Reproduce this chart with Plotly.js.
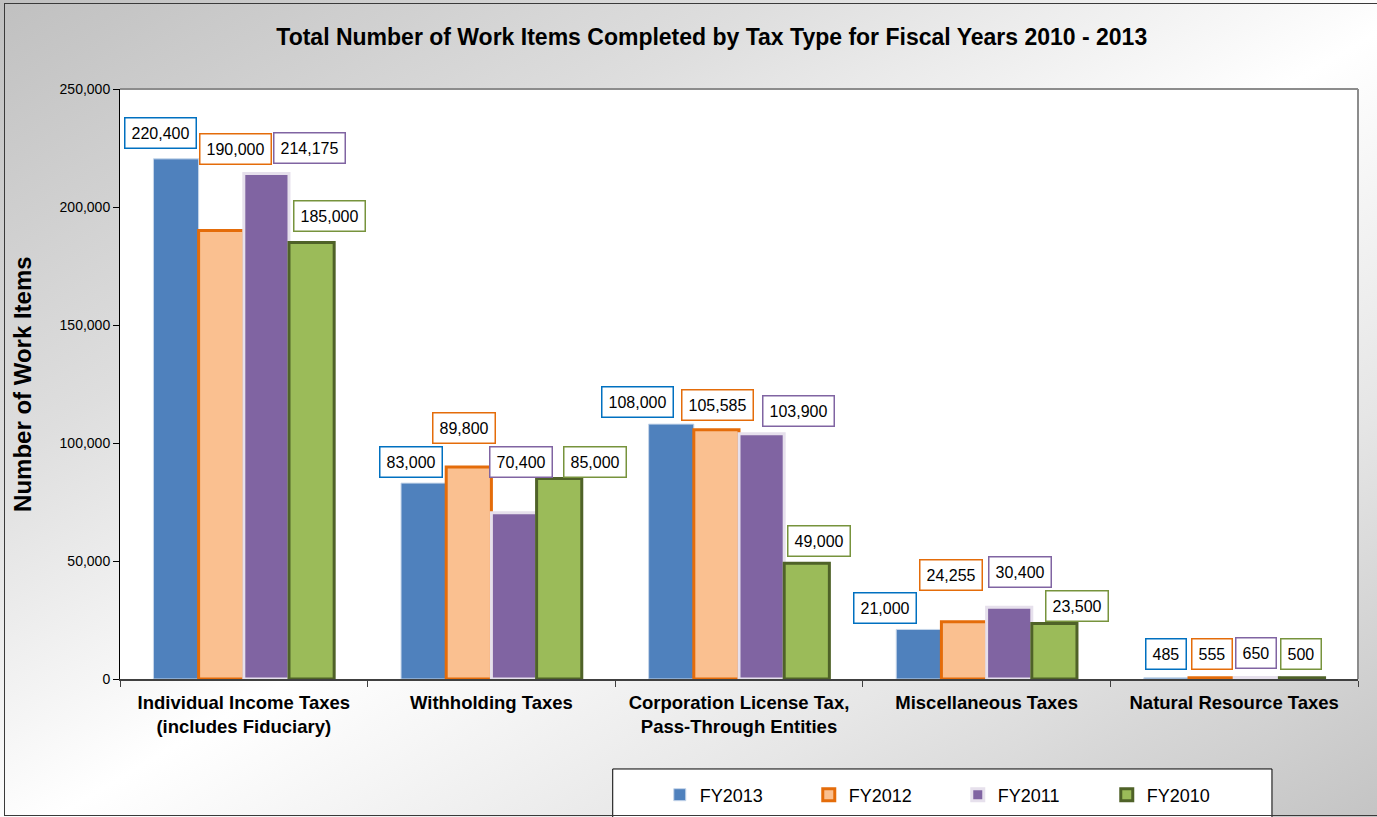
<!DOCTYPE html>
<html>
<head>
<meta charset="utf-8">
<script src="https://cdn.plot.ly/plotly-3.0.1.min.js"></script>
<style>
  html, body { margin: 0; padding: 0; }
  #wrap { position: relative; width: 1377px; height: 817px; overflow: hidden;
    background: linear-gradient(to bottom right, #c0c0c0 0%, #dedede 28%, #ffffff 52%, #e6e6e6 75%, #c4c4c4 100%); }
  #chart { position: absolute; left: 0; top: 0; width: 1377px; height: 817px; }
  #frame { position: absolute; left: 4px; top: 3px; width: 1380px; height: 811px;
    border: 1.5px solid #3a3a3a; pointer-events: none; }
</style>
</head>
<body>
<div id="wrap">
  <div id="chart"></div>
  <div id="frame"></div>
</div>
<script>
// ---- data ----
const categories = [
  "Individual Income Taxes<br>(includes Fiduciary)",
  "Withholding Taxes",
  "Corporation License Tax,<br>Pass-Through Entities",
  "Miscellaneous Taxes",
  "Natural Resource Taxes"
];
const seriesNames = ["FY2013", "FY2012", "FY2011", "FY2010"];
const fy2013 = [220400, 83000, 108000, 21000, 485];
const fy2012 = [190000, 89800, 105585, 24255, 555];
const fy2011 = [214175, 70400, 103900, 30400, 650];
const fy2010 = [185000, 85000, 49000, 23500, 500];
const yTickVals = [0, 50000, 100000, 150000, 200000, 250000];

// ---- styles ----
const fills = ["#4F81BD", "#FAC090", "#8064A2", "#9BBB59"];
const lines = ["#C6D6EA", "#E46C0A", "#E6E0EC", "#4F6228"];
const lineW = [1, 3, 3, 3];
const labelBorders = ["#0070C0", "#E46C0A", "#8064A2", "#77933C"];
// label box offsets (pixels) relative to bar top centre: [dx], [up]
const labelDx = [[-16, -13, -34, -34, 0], [14, -5, 1, -13, 0], [43, 7, 37, 11, -1], [18, 36, 12, 23, -1]];
const labelUp = [[26, 21, 22, 21, 24], [82, 39, 25, 47, 24], [26, 51, 23, 35, 24], [26, 16, 22, 18, 24]];

const allSeries = [fy2013, fy2012, fy2011, fy2010];
const bargap = 0.27;
const barW = (1 - bargap) / allSeries.length;
const font = "Liberation Sans, Arial, sans-serif";

const traces = allSeries.map((vals, s) => ({
  type: "bar",
  name: seriesNames[s],
  x: categories,
  y: vals,
  marker: { color: fills[s], line: { color: lines[s], width: lineW[s] } },
  hoverinfo: "x+y+name"
}));

const annotations = [];
allSeries.forEach((vals, s) => {
  vals.forEach((v, i) => {
    annotations.push({
      xref: "x", yref: "y",
      x: i + (s - (allSeries.length - 1) / 2) * barW,
      y: v,
      xshift: labelDx[s][i],
      yshift: labelUp[s][i],
      yanchor: "middle", xanchor: "center",
      text: v.toLocaleString("en-US"),
      showarrow: false,
      font: { family: font, size: 16, color: "#000" },
      bgcolor: "#ffffff",
      bordercolor: labelBorders[s],
      borderwidth: 1.5,
      borderpad: 6
    });
  });
});
annotations.push({
  xref: "paper", yref: "paper", x: -0.0792, y: 0.5,
  xanchor: "center", yanchor: "middle", textangle: -90,
  text: "Number of Work Items", showarrow: false,
  font: { family: font, size: 24, color: "#000", weight: "bold" }
});

const layout = {
  width: 1377, height: 817,
  margin: { l: 120, r: 19, t: 89, b: 138 },
  paper_bgcolor: "rgba(0,0,0,0)",
  plot_bgcolor: "#ffffff",
  barmode: "group",
  bargap: bargap,
  bargroupgap: 0,
  title: {
    text: "Total Number of Work Items Completed by Tax Type for Fiscal Years 2010 - 2013",
    font: { family: font, size: 23, color: "#000", weight: "bold" },
    xref: "paper", x: 0.478, xanchor: "center",
    yref: "container", y: 1 - 37 / 817, yanchor: "middle"
  },
  xaxis: {
    type: "category",
    showgrid: false, zeroline: false,
    showline: true, linecolor: "#404040", linewidth: 1.5,
    ticks: "outside", tickson: "boundaries", ticklen: 6, tickcolor: "#404040",
    ticklabelstandoff: 6,
    automargin: false,
    tickfont: { family: font, size: 18.5, color: "#000", weight: "bold" }
  },
  yaxis: {
    range: [0, 250000],
    tickvals: yTickVals,
    tickformat: ",",
    showgrid: false, zeroline: false,
    showline: true, linecolor: "#000", linewidth: 1,
    ticks: "outside", ticklen: 6, tickcolor: "#000",
    automargin: false,
    tickfont: { family: font, size: 14, color: "#000" }
  },
  shapes: [
    { type: "line", xref: "paper", yref: "paper", x0: 0, x1: 1, y0: 1, y1: 1, line: { color: "#8c8c8c", width: 2 } },
    { type: "line", xref: "paper", yref: "paper", x0: 1, x1: 1, y0: 0, y1: 1, line: { color: "#8c8c8c", width: 2 } },
    { type: "rect", xref: "paper", yref: "paper", x0: 0.398, x1: 0.9305, y0: -0.26, y1: -0.1525,
      fillcolor: "#ffffff", line: { color: "#000", width: 1 }, layer: "below" }
  ],
  showlegend: true,
  legend: {
    orientation: "h",
    xref: "paper", x: 0.436, xanchor: "left",
    yref: "container", y: 1 - 795 / 817, yanchor: "middle",
    bgcolor: "rgba(0,0,0,0)",
    font: { family: font, size: 18, color: "#000" },
    entrywidth: 104, entrywidthmode: "pixels",
    itemclick: false, itemdoubleclick: false
  },
  annotations: annotations
};

Plotly.newPlot("chart", traces, layout, { displayModeBar: false, responsive: false });
</script>
</body>
</html>
